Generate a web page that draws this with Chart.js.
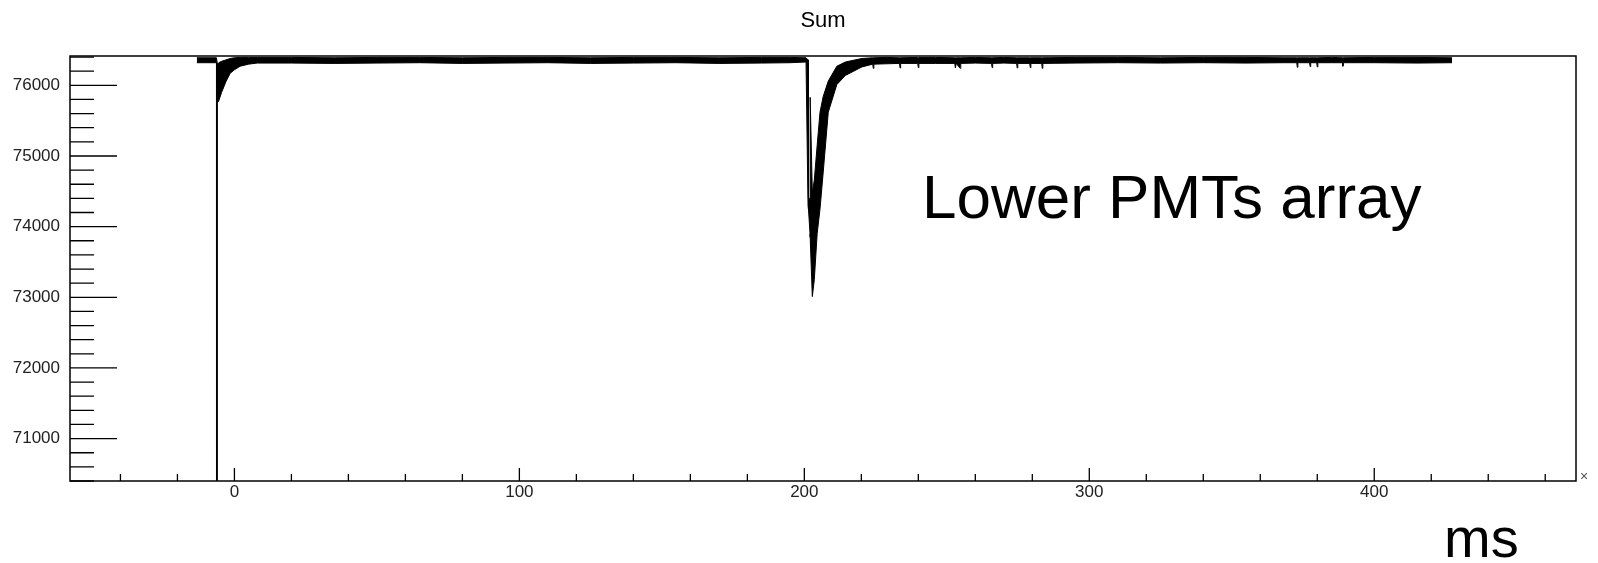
<!DOCTYPE html>
<html>
<head>
<meta charset="utf-8">
<title>Sum</title>
<script src="https://cdn.jsdelivr.net/npm/chart.js@4.4.1/dist/chart.umd.min.js"></script>
<style>
  html, body { margin: 0; padding: 0; background: #fff; }
  canvas { display: block; }
</style>
</head>
<body>
<canvas id="sumChart" width="1598" height="563"></canvas>
<script>
// time (ms) of each sample
const times = [
    -13.2, -6.3, -6.2, -6.0, -5.5, -4.5, -3.0, -1.5, 0, 2, 5, 8,
    20, 35, 50, 65, 80, 95, 110, 125, 140, 155, 170, 185, 195, 200.6,
    201.3, 201.45, 202.0, 202.05, 202.8, 203.5, 204.5, 205.5, 206.6, 208.4, 211.4, 214.4, 220.2,
    224.0, 224.2, 224.4, 229, 233.4, 233.6, 233.8, 239.8, 240.0, 240.2, 246,
    252.8, 253.0, 253.3, 254.7, 254.9, 260, 265.7, 265.9, 266.1, 270,
    274.5, 274.7, 274.9, 279.1, 279.3, 279.5, 283.3, 283.5, 283.7,
    295, 310, 325, 340, 355, 368, 372.8, 373.0, 373.2, 377.3, 377.5, 377.7,
    379.8, 380.0, 380.2, 385, 388.8, 389.0, 389.2, 400, 415, 427.3
];
// top edge of the noisy trace
const upperValues = [
    76390, 76390, 76390, 76300, 76320, 76340, 76360, 76380, 76390, 76395, 76395, 76395,
    76395, 76390, 76395, 76395, 76390, 76395, 76395, 76390, 76395, 76395, 76390, 76395, 76395, 76390,
    76360, 74400, 74400, 75830, 74480, 74660, 75150, 75620, 75840, 76060, 76270, 76330, 76380,
    76390, 76390, 76390, 76395, 76390, 76390, 76390, 76395, 76390, 76395, 76395,
    76390, 76390, 76390, 76390, 76390, 76395, 76390, 76390, 76390, 76395,
    76390, 76390, 76390, 76390, 76390, 76390, 76390, 76390, 76390,
    76395, 76395, 76390, 76395, 76395, 76390, 76390, 76390, 76390, 76390, 76390, 76390,
    76390, 76390, 76390, 76395, 76390, 76390, 76390, 76395, 76395, 76390
];
// bottom edge of the noisy trace
const lowerValues = [
    76320, 76320, 0, 75750, 75780, 75900, 76050, 76170, 76220, 76270, 76300, 76315,
    76315, 76310, 76315, 76320, 76310, 76315, 76320, 76310, 76315, 76320, 76310, 76315, 76320, 76330,
    74300, 74250, 73900, 73850, 73010, 73250, 73900, 74250, 74760, 75620, 76010, 76140, 76260,
    76300, 76240, 76300, 76305, 76310, 76245, 76310, 76310, 76250, 76310, 76310,
    76310, 76245, 76310, 76240, 76310, 76315, 76310, 76250, 76310, 76315,
    76310, 76245, 76310, 76310, 76250, 76310, 76310, 76240, 76310,
    76315, 76320, 76315, 76320, 76315, 76320, 76320, 76255, 76320, 76320, 76265, 76320,
    76320, 76260, 76320, 76320, 76320, 76270, 76320, 76320, 76315, 76320
];
const yTickLabels = [71000, 72000, 73000, 74000, 75000, 76000];
const xTickLabels = [0, 100, 200, 300, 400];

const tickFont = { family: "'Liberation Sans', Arial, sans-serif", size: 17 };

// frame, inner ticks and the loose texts on the picture
const rootStyle = {
    id: 'rootStyle',
    afterDraw(chart) {
        const ctx = chart.ctx;
        const area = chart.chartArea;
        const xs = chart.scales.x;
        const ys = chart.scales.y;
        ctx.save();
        ctx.strokeStyle = '#000';
        ctx.lineWidth = 1.5;
        ctx.strokeRect(area.left, area.top, area.right - area.left, area.bottom - area.top);

        ctx.lineWidth = 1.3;
        ctx.beginPath();
        ys.ticks.forEach(function(t) {
            const y = ys.getPixelForValue(t.value);
            const len = yTickLabels.includes(t.value) ? 47 : 24;
            ctx.moveTo(area.left, y);
            ctx.lineTo(area.left + len, y);
        });
        xs.ticks.forEach(function(t) {
            const x = xs.getPixelForValue(t.value);
            const len = xTickLabels.includes(t.value) ? 13 : 7;
            ctx.moveTo(x, area.bottom);
            ctx.lineTo(x, area.bottom - len);
        });
        ctx.stroke();

        ctx.fillStyle = '#000';
        ctx.textAlign = 'center';
        ctx.textBaseline = 'alphabetic';
        ctx.font = "22px 'Liberation Sans', Arial, sans-serif";
        ctx.fillText('Sum', (area.left + area.right) / 2, 27);

        ctx.textAlign = 'left';
        ctx.font = "62px 'Liberation Sans', Arial, sans-serif";
        ctx.fillText('Lower PMTs array', 922, 218);

        ctx.font = "56px 'Liberation Sans', Arial, sans-serif";
        ctx.fillText('ms', 1444, 557);

        ctx.fillStyle = '#555';
        ctx.font = "14px 'Liberation Sans', Arial, sans-serif";
        ctx.textBaseline = 'middle';
        ctx.fillText('\u00d7', area.right + 4, area.bottom - 4);
        ctx.restore();
    }
};

const ctx = document.getElementById('sumChart').getContext('2d');
const sumChart = new Chart(ctx, {
    type: 'line',
    data: {
        datasets: [{
            label: 'upper',
            data: times.map(function(t, i) { return { x: t, y: upperValues[i] }; }),
            borderColor: '#000',
            backgroundColor: '#000',
            borderWidth: 1,
            pointRadius: 0,
            tension: 0,
            fill: '+1'
        }, {
            label: 'lower',
            data: times.map(function(t, i) { return { x: t, y: lowerValues[i] }; }),
            borderColor: '#000',
            borderWidth: 1,
            pointRadius: 0,
            tension: 0,
            fill: false
        }]
    },
    options: {
        responsive: false,
        animation: false,
        layout: { padding: { left: 0, top: 56, right: 22, bottom: 0 } },
        plugins: {
            legend: { display: false },
            title: { display: false },
            tooltip: { enabled: false }
        },
        scales: {
            x: {
                type: 'linear',
                min: -57.7,
                max: 470.8,
                grid: { display: false, drawTicks: false },
                border: { display: false },
                afterBuildTicks: function(scale) {
                    const ticks = [];
                    for (let v = -40; v <= 460; v += 20) ticks.push({ value: v });
                    scale.ticks = ticks;
                },
                afterFit: function(scale) { scale.height = 82; },
                ticks: {
                    autoSkip: false,
                    maxRotation: 0,
                    padding: 1,
                    color: '#222',
                    font: tickFont,
                    callback: function(v) { return xTickLabels.includes(v) ? String(v) : ''; }
                }
            },
            y: {
                min: 70400,
                max: 76415,
                grid: { display: false, drawTicks: false },
                border: { display: false },
                afterBuildTicks: function(scale) {
                    const ticks = [];
                    for (let v = 70400; v <= 76400; v += 200) ticks.push({ value: v });
                    scale.ticks = ticks;
                },
                afterFit: function(scale) { scale.width = 70; },
                ticks: {
                    autoSkip: false,
                    padding: 10,
                    color: '#222',
                    font: tickFont,
                    callback: function(v) { return yTickLabels.includes(v) ? String(v) : ''; }
                }
            }
        }
    },
    plugins: [rootStyle]
});
</script>
</body>
</html>
